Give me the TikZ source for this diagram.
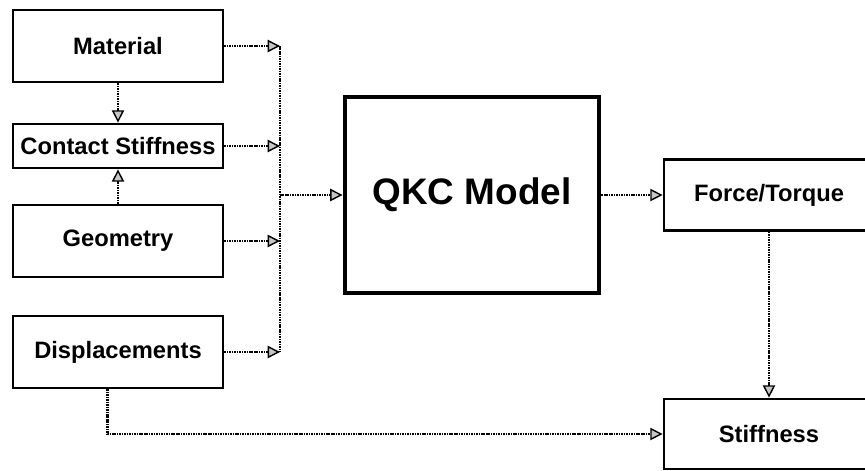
\documentclass[tikz,border=0pt]{standalone}
\usepackage{fontspec}
\setmainfont{Liberation Sans}
\usetikzlibrary{positioning,arrows.meta,calc}

\begin{document}
\begin{tikzpicture}[
  every node/.style={font=\fontsize{13.5}{15}\selectfont\bfseries,align=center},
  blockbox/.style={draw,line width=1.6pt,minimum width=4.2cm,inner sep=0pt},
  modelbox/.style={draw,line width=2.8pt,minimum width=5.08cm,minimum height=3.92cm,
    font=\fontsize{21}{24}\selectfont\bfseries},
  flow/.style={dash pattern=on 0.9pt off 0.5pt,line width=1.3pt,
    -{Triangle[length=7pt,width=7pt,line width=0.8pt,fill=gray!45]}},
  bus/.style={dash pattern=on 0.9pt off 0.5pt,line width=1.3pt}
]
  % Rahmen
  \useasboundingbox (0,0) rectangle (17.3,9.4);
  \clip (0,0) rectangle (17.3,9.4);

  % Eingaenge links
  \node[blockbox,minimum height=1.44cm] (material) at (2.36,8.48) {Material};
  \node[blockbox,minimum height=0.88cm] (contact) at (2.36,6.48) {Contact Stiffness};
  \node[blockbox,minimum height=1.44cm] (geometry) at (2.36,4.58) {Geometry};
  \node[blockbox,minimum height=1.44cm] (displ) at (2.36,2.36) {Displacements};

  % Modell
  \node[modelbox] (qkc) at (9.44,5.5) {QKC Model};

  % Ausgaenge rechts
  \node[blockbox,minimum height=1.42cm] (force) at (15.38,5.5) {Force/Torque};
  \node[blockbox,minimum height=1.4cm] (stiff) at (15.38,0.72) {Stiffness};

  % Sammelleitung
  \coordinate (bustop) at (5.6,0 |- material.east);
  \coordinate (busbot) at (5.6,0 |- displ.east);
  \coordinate (busmid) at (5.6,0 |- qkc.west);
  \draw[bus] (bustop) -- (busbot);

  % Pfeile
  \draw[flow] (material.south) -- (contact.north);
  \draw[flow] (geometry.north) -- (contact.south);
  \foreach \n/\c in {material/bustop,displ/busbot}{
    \draw[flow] (\n.east) -- (\c);
  }
  \foreach \n in {contact,geometry}{
    \draw[flow] (\n.east) -- (\n.east -| busmid);
  }
  \draw[flow] (busmid) -- (qkc.west);
  \draw[flow] (qkc.east) -- (force.west);
  \draw[flow] (force.south) -- (stiff.north);
  \draw[flow] ($(displ.south west)!0.45!(displ.south east)$) |- (stiff.west);
\end{tikzpicture}
\end{document}
